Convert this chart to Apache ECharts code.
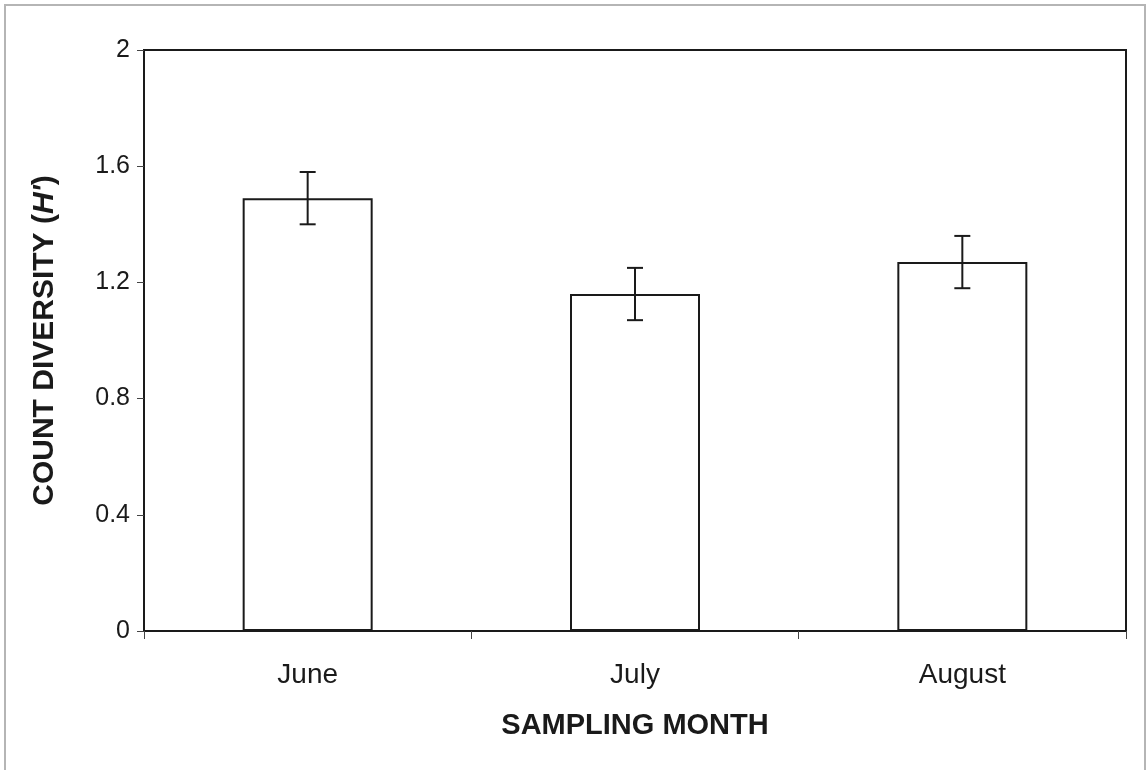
<!DOCTYPE html>
<html>
<head>
<meta charset="utf-8">
<title>Count diversity by sampling month</title>
<script src="https://cdn.jsdelivr.net/npm/echarts@6/dist/echarts.min.js"></script>
<style>
  html, body { margin: 0; padding: 0; background: #fff; }
  #chart { width: 1147px; height: 770px; }
</style>
</head>
<body>
<div id="chart"></div>
<script>
// Shannon diversity (H') per sampling month, with standard error
const months = ['June', 'July', 'August'];
const diversity = [1.49, 1.16, 1.27];
const stdError = [0.09, 0.09, 0.09];
const yTicks = [0, 0.4, 0.8, 1.2, 1.6, 2];

const FONT = '"Liberation Sans", Arial, sans-serif';
const INK = '#1a1a1a';

const errorData = months.map((m, i) => [i, diversity[i] - stdError[i], diversity[i] + stdError[i]]);

const chart = echarts.init(document.getElementById('chart'), null, { renderer: 'canvas' });

chart.setOption({
  backgroundColor: '#fff',
  animation: false,
  graphic: [{
    type: 'rect',
    shape: { x: 5, y: 5, width: 1140, height: 780 },
    style: { fill: 'none', stroke: '#b5b5b5', lineWidth: 2 },
    silent: true
  }],
  grid: {
    left: 144, right: 21, top: 50, bottom: 139,
    show: true, borderColor: INK, borderWidth: 2, backgroundColor: 'transparent'
  },
  xAxis: {
    type: 'category',
    data: months,
    name: 'SAMPLING MONTH',
    nameLocation: 'middle',
    nameGap: 80,
    nameTextStyle: { fontFamily: FONT, fontSize: 29, fontWeight: 'bold', color: INK },
    axisLine: { lineStyle: { color: INK, width: 2 } },
    axisTick: { show: true, length: 8, lineStyle: { color: '#444', width: 1 }, alignWithLabel: false },
    axisLabel: { fontFamily: FONT, fontSize: 28, color: INK, margin: 30 },
    splitLine: { show: false }
  },
  yAxis: {
    type: 'value',
    min: yTicks[0],
    max: yTicks[yTicks.length - 1],
    interval: 0.4,
    name: '{b|COUNT DIVERSITY (}{i|H\'}{b|)}',
    nameLocation: 'middle',
    nameGap: 84,
    nameRotate: 90,
    nameTextStyle: {
      rich: {
        b: { fontFamily: FONT, fontSize: 30, fontWeight: 'bold', color: INK },
        i: { fontFamily: FONT, fontSize: 30, fontWeight: 'bold', fontStyle: 'italic', color: INK }
      }
    },
    axisLine: { show: true, lineStyle: { color: INK, width: 2 } },
    axisTick: { show: true, length: 7, lineStyle: { color: '#444', width: 1 } },
    axisLabel: {
      fontFamily: FONT, fontSize: 25, color: INK, margin: 14,
      formatter: v => String(Math.round(v * 10) / 10)
    },
    splitLine: { show: false }
  },
  series: [
    {
      type: 'bar',
      data: diversity,
      barWidth: 130,
      itemStyle: { color: '#fff', borderColor: INK, borderWidth: 2 },
      z: 2
    },
    {
      type: 'custom',
      data: errorData,
      z: 5,
      renderItem: (params, api) => {
        const x = api.value(0);
        const lo = api.coord([x, api.value(1)]);
        const hi = api.coord([x, api.value(2)]);
        const half = 8;
        const style = { stroke: INK, lineWidth: 2, fill: 'none' };
        return {
          type: 'group',
          children: [
            { type: 'line', shape: { x1: hi[0], y1: hi[1], x2: lo[0], y2: lo[1] }, style },
            { type: 'line', shape: { x1: hi[0] - half, y1: hi[1], x2: hi[0] + half, y2: hi[1] }, style },
            { type: 'line', shape: { x1: lo[0] - half, y1: lo[1], x2: lo[0] + half, y2: lo[1] }, style }
          ]
        };
      }
    }
  ]
});
</script>
</body>
</html>
